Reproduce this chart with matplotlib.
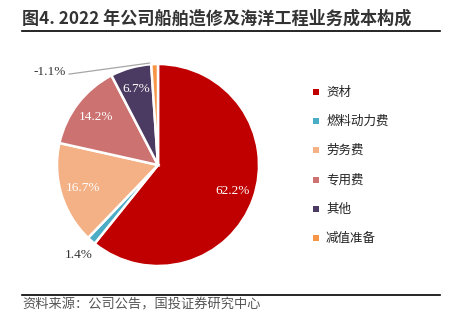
import numpy as np
import matplotlib
matplotlib.use("Agg")
import matplotlib.pyplot as plt
from matplotlib.lines import Line2D
from matplotlib.patches import Rectangle

plt.rcParams['font.family'] = ['Noto Sans CJK SC', 'DejaVu Sans']

categories = ['资材', '燃料动力费', '劳务费', '专用费', '其他', '减值准备']
values = [62.2, 1.4, 16.7, 14.2, 6.7, -1.1]
colors = ['#C00000', '#4BACC6', '#F3B185', '#CC7371', '#4B3A61', '#F79646']
title = '图4. 2022 年公司船舶造修及海洋工程业务成本构成'
source = '资料来源：公司公告，国投证券研究中心'

W, H = 453, 322
fig = plt.figure(figsize=(W / 100, H / 100), dpi=100)

# pie axes: centre (158,165) px, radius ~101 px
cx, cy, r = 158, 165, 101
ax = fig.add_axes([(cx - r) / W, 1 - (cy + r) / H, 2 * r / W, 2 * r / H])

sizes = np.abs(values)
wedges, _ = ax.pie(sizes, colors=colors, startangle=90, counterclock=False,
                   radius=1.0, wedgeprops=dict(edgecolor='white', linewidth=1.8))
ax.set_xlim(-1, 1)
ax.set_ylim(-1, 1)
ax.set_aspect('equal')
ax.axis('off')

label_font = dict(family='Liberation Serif', fontsize=9.5)
for i, (w, v) in enumerate(zip(wedges, values)):
    ang = np.deg2rad((w.theta1 + w.theta2) / 2)
    txt = f'{v:.1f}%'
    if i == 1:
        x, y = 1.19 * np.cos(ang), 1.19 * np.sin(ang)
        ax.text(x, y, txt, ha='center', va='center', color='#333333', **label_font)
    elif i == 5:
        # leader line for the small slice
        ex, ey = 1.0 * np.cos(ang), 1.0 * np.sin(ang)
        lx, ly = -0.88, 0.9
        ax.plot([ex - 0.05, lx], [ey + 0.01, ly], color='#A6A6A6', lw=0.9, clip_on=False)
        ax.text(lx - 0.03, ly + 0.02, txt, ha='right', va='center', color='#333333', **label_font)
    else:
        d = 0.78
        x, y = d * np.cos(ang), d * np.sin(ang)
        ax.text(x, y, txt, ha='center', va='center', color='white', **label_font)

# legend
leg_y = [92, 121, 150, 180, 209, 238]
for name, c, y in zip(categories, colors, leg_y):
    fig.patches.append(Rectangle(((316 - 3) / W, 1 - (y + 3) / H), 6 / W, 6 / H,
                                 transform=fig.transFigure, facecolor=c, edgecolor='none'))
    fig.text(326 / W, 1 - y / H, name, ha='left', va='center', fontsize=9, color='#222222')

# title and rules
fig.text(22 / W, 1 - 19 / H, title, ha='left', va='center', fontsize=12.3, fontweight='bold',
         color='#333333')
fig.add_artist(Line2D([22 / W, 440 / W], [1 - 30.5 / H] * 2, color='black', lw=1.2))
fig.add_artist(Line2D([22 / W, 440 / W], [1 - 294.5 / H] * 2, color='black', lw=1.2))
fig.text(22 / W, 1 - 304.5 / H, source, ha='left', va='center', fontsize=9.5, color='#555555',
         style='italic')

fig.savefig('out.png', dpi=100)
